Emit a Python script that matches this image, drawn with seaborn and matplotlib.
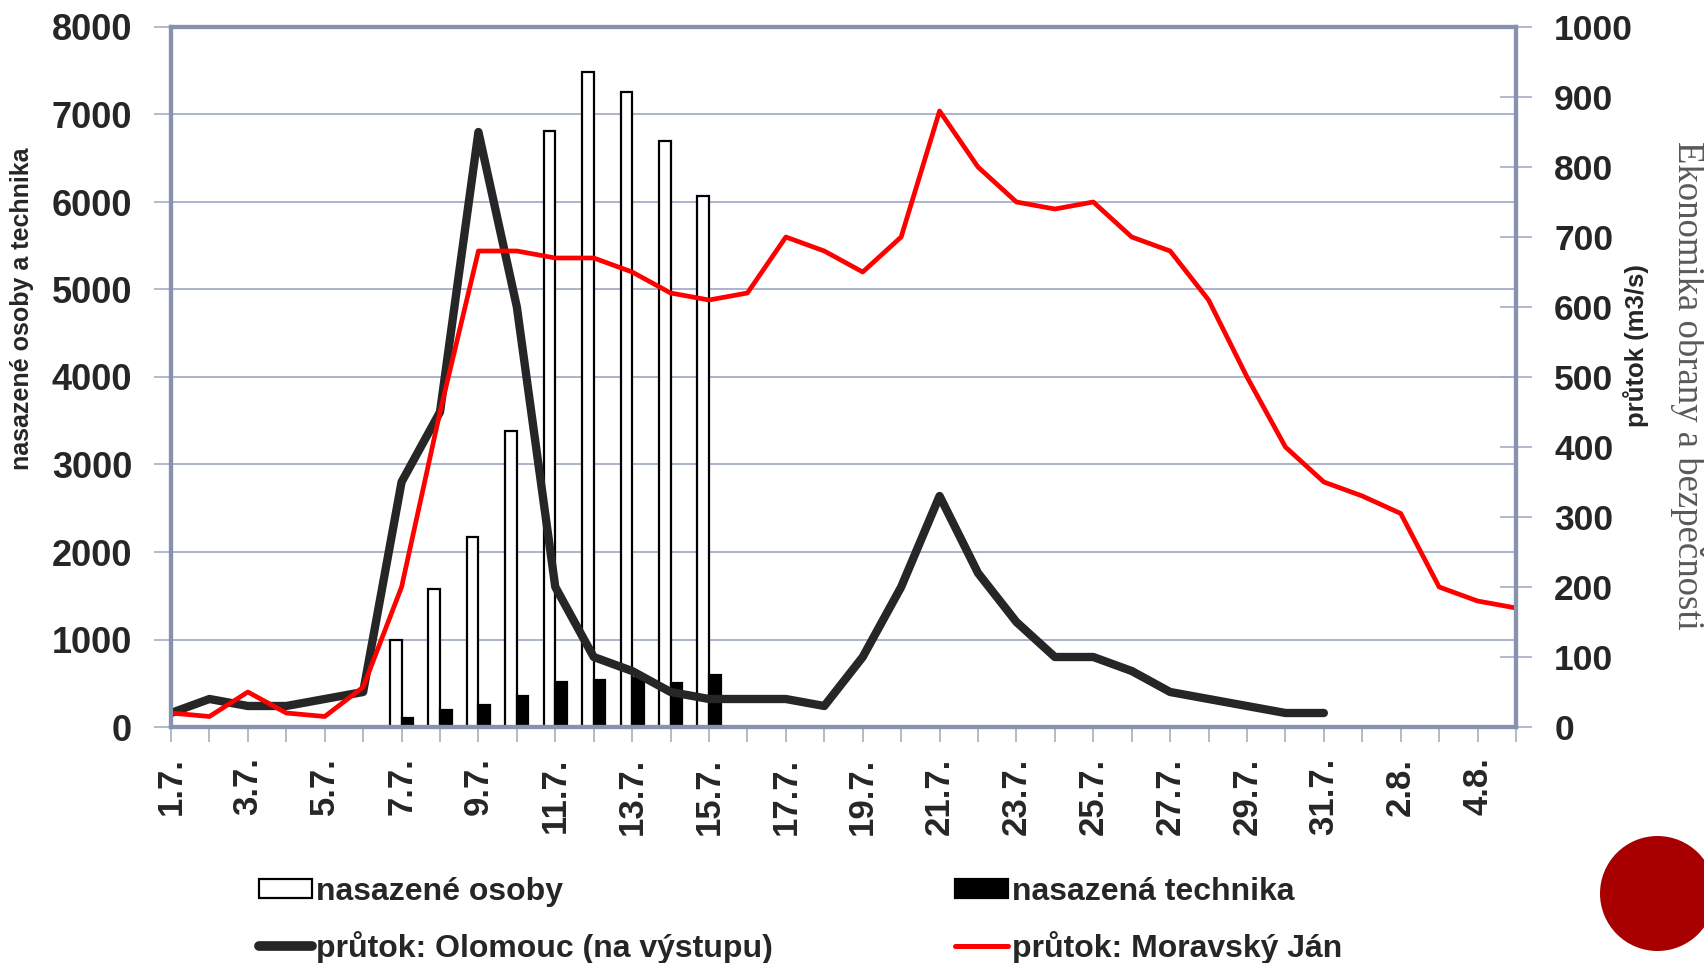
import numpy as np
import pandas as pd
import matplotlib
matplotlib.use("Agg")
import matplotlib.pyplot as plt
from matplotlib.patches import Patch, Circle
from matplotlib.lines import Line2D
import seaborn as sns

# Days on the category axis: 1.7. - 5.8.
dates = [f"{d}.7." for d in range(1, 32)] + [f"{d}.8." for d in range(1, 6)]

# Deployment (left axis)
bar_days = ["7.7.", "8.7.", "9.7.", "10.7.", "11.7.", "12.7.", "13.7.", "14.7.", "15.7."]
osoby = [1000, 1580, 2170, 3380, 6810, 7480, 7260, 6700, 6070]
technika = [100, 200, 250, 360, 520, 540, 560, 500, 600]

# Discharge in m3/s (right axis)
olomouc = [20, 40, 30, 30, 40, 50, 350, 450, 850, 600, 200, 100, 80, 50, 40, 40,
           40, 30, 100, 200, 330, 220, 150, 100, 100, 80, 50, 40, 30, 20, 20]
moravsky_jan = [20, 15, 50, 20, 15, 57, 200, 450, 680, 680, 670, 670, 650, 620, 610,
                620, 700, 680, 650, 700, 880, 800, 750, 740, 750, 700, 680, 610, 500,
                400, 350, 330, 305, 200, 180, 170]

series_names = ["nasazené osoby", "nasazená technika"]
line_names = ["průtok: Olomouc (na výstupu)", "průtok: Moravský Ján"]

sns.set_theme(style="white")
plt.rcParams["font.family"] = ["Liberation Sans", "DejaVu Sans"]
plt.rcParams["font.weight"] = "bold"

FRAME = "#8792ae"
GRID = "#a4aec6"
DARK = "#262626"
RED = "#ff0000"

W, H = 1704, 963
fig = plt.figure(figsize=(W / 100, H / 100), dpi=100)
fig.patch.set_facecolor("white")
ax = fig.add_axes([171 / W, 1 - 727 / H, (1516 - 171) / W, (727 - 27) / H])

bars = pd.DataFrame({
    "den": bar_days * 2,
    "serie": [series_names[0]] * len(osoby) + [series_names[1]] * len(technika),
    "hodnota": osoby + technika,
})
sns.barplot(data=bars, x="den", y="hodnota", hue="serie", order=dates,
            hue_order=series_names,
            palette={series_names[0]: "white", series_names[1]: "black"},
            width=0.6, edgecolor="black", linewidth=1.6, saturation=1,
            errorbar=None, legend=False, ax=ax)

ax2 = ax.twinx()
sns.lineplot(x=np.arange(len(olomouc)), y=olomouc, color=DARK, linewidth=6,
             solid_capstyle="round", solid_joinstyle="round", ax=ax2)
sns.lineplot(x=np.arange(len(moravsky_jan)), y=moravsky_jan, color=RED,
             linewidth=3.4, solid_joinstyle="round", ax=ax2)

ax.set_xlim(0, len(dates) - 1)
ax.set_ylim(0, 8000)
ax2.set_ylim(0, 1000)
ax.set_xlabel("")
ax.set_ylabel("")
ax2.set_ylabel("")

ax.set_yticks(np.arange(0, 8001, 1000))
ax2.set_yticks(np.arange(0, 1001, 100))
ax.set_xticks(np.arange(len(dates)))
ax.set_xticklabels([d if i % 2 == 0 else "" for i, d in enumerate(dates)], rotation=90)

ax.tick_params(axis="y", direction="out", length=12, width=1.2, color=GRID,
               pad=16, labelsize=26, left=True)
ax.tick_params(axis="x", direction="out", length=11, width=1.2, color=GRID,
               pad=11, labelsize=25, bottom=True)
ax2.tick_params(axis="y", direction="inout", length=23, width=1.2, color=GRID,
                pad=16, labelsize=25.5, right=True)

ax.yaxis.grid(True, color=GRID, linewidth=1.3)
ax.xaxis.grid(False)
ax.set_axisbelow(True)

for a in (ax, ax2):
    for s in a.spines.values():
        s.set_visible(True)
        s.set_color(FRAME)
        s.set_linewidth(3)

# Axis titles
fig.text(22 / W, 1 - 309 / H, "nasazené osoby a technika", rotation=90,
         ha="center", va="center", fontsize=18, fontweight="bold")
fig.text(1636 / W, 1 - 346 / H, "průtok (m3/s)", rotation=90,
         ha="center", va="center", fontsize=18.5, fontweight="bold")

# Legend in two columns
leg_kw = dict(loc="upper left", frameon=False, fontsize=23, handlelength=1.66,
              handleheight=0.56, handletextpad=0.12, labelspacing=0.75,
              borderpad=0, borderaxespad=0)
leg1 = fig.legend(handles=[Patch(facecolor="white", edgecolor="black", linewidth=1.6),
                           Line2D([], [], color=DARK, linewidth=7, solid_capstyle="round")],
                  labels=[series_names[0], line_names[0]],
                  bbox_to_anchor=(259 / W, 1 - 877 / H), **leg_kw)
leg2 = fig.legend(handles=[Patch(facecolor="black", edgecolor="black", linewidth=1.6),
                           Line2D([], [], color=RED, linewidth=3.6)],
                  labels=[series_names[1], line_names[1]],
                  bbox_to_anchor=(955 / W, 1 - 877 / H), **leg_kw)

# Side caption and decoration
fig.text(1688 / W, 1 - 385 / H, "Ekonomika obrany a bezpečnosti", rotation=270,
         ha="center", va="center", fontsize=26.5, fontweight="normal",
         family=["Liberation Serif", "DejaVu Serif"], color="#595959")
fig.patches.append(Circle((16.575, 0.695), 0.575, transform=fig.dpi_scale_trans,
                          facecolor="#a80000", edgecolor="none"))

fig.savefig("out.png", dpi=100)
